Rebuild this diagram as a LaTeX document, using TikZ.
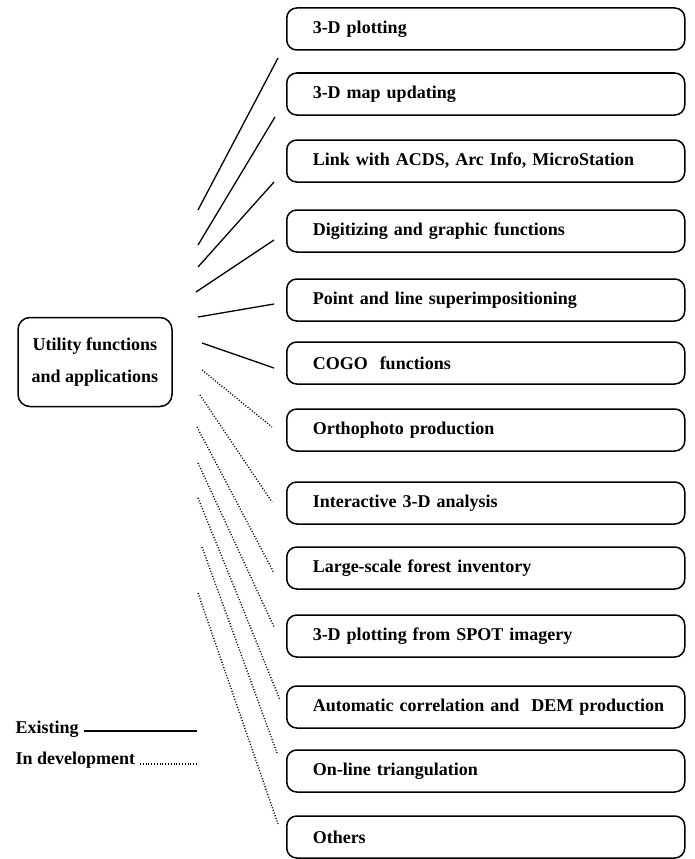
\documentclass[tikz,border=0pt]{standalone}
\usepackage{fontspec}
\setmainfont{Liberation Serif}

\tikzset{
    item/.style={draw, rounded corners=10pt, line width=1.5pt, minimum height=42pt,
        text width=346pt, inner xsep=26pt, align=left, anchor=west,
        font=\fontsize{18}{20}\selectfont\bfseries},
    main/.style={draw, rounded corners=12pt, line width=1.5pt, minimum width=154pt,
        minimum height=89pt, align=center, font=\fontsize{18}{32}\selectfont\bfseries},
    key/.style={anchor=base west, font=\fontsize{18}{20}\selectfont\bfseries},
    ex/.style={line width=1.3pt},
    dev/.style={line width=1.4pt, dash pattern=on 1pt off 1.8pt},
}

\begin{document}
\begin{tikzpicture}[x=1pt, y=-1pt]
    \useasboundingbox (0, 0) rectangle (694, 859);

    \node[main](U) at (95, 362) {Utility functions\\and applications};

    \node[item](P1) at (286, 29) {3-D plotting};
    \node[item](P2) at (286, 94) {3-D map updating};
    \node[item](P3) at (286, 161) {Link with ACDS, Arc Info, MicroStation};
    \node[item](P4) at (286, 231) {Digitizing and graphic functions};
    \node[item](P5) at (286, 300) {Point and line superimpositioning};
    \node[item](P6) at (286, 363) {COGO~ functions};
    \node[item](P7) at (286, 430) {Orthophoto production};
    \node[item](P8) at (286, 503) {Interactive 3-D analysis};
    \node[item](P9) at (286, 568) {Large-scale forest inventory};
    \node[item](P10) at (286, 636) {3-D plotting from SPOT imagery};
    \node[item](P11) at (286, 707) {\mbox{Automatic correlation and~ DEM production}};
    \node[item](P12) at (286, 771) {On-line triangulation};
    \node[item](P13) at (286, 837) {Others};

    % existing
    \coordinate(a1) at (198, 210);
    \coordinate(b1) at (278, 58);
    \coordinate(a2) at (198, 245);
    \coordinate(b2) at (275, 117);
    \coordinate(a3) at (198, 267);
    \coordinate(b3) at (274, 182);
    \coordinate(a4) at (196, 292);
    \coordinate(b4) at (274, 240);
    \coordinate(a5) at (198, 317);
    \coordinate(b5) at (274, 304);
    \coordinate(a6) at (202, 343);
    \coordinate(b6) at (274, 368);

    \draw [ex] (a1)--(b1);
    \draw [ex] (a2)--(b2);
    \draw [ex] (a3)--(b3);
    \draw [ex] (a4)--(b4);
    \draw [ex] (a5)--(b5);
    \draw [ex] (a6)--(b6);

    % in development
    \coordinate(a7) at (202, 370);
    \coordinate(b7) at (272, 427);
    \coordinate(a8) at (200, 395);
    \coordinate(b8) at (272, 502);
    \coordinate(a9) at (197, 427);
    \coordinate(b9) at (274, 573);
    \coordinate(a10) at (198, 463);
    \coordinate(b10) at (274, 627);
    \coordinate(a11) at (198, 498);
    \coordinate(b11) at (280, 700);
    \coordinate(a12) at (202, 547);
    \coordinate(b12) at (277, 753);
    \coordinate(a13) at (198, 593);
    \coordinate(b13) at (278, 824);

    \draw [dev] (a7)--(b7);
    \draw [dev] (a8)--(b8);
    \draw [dev] (a9)--(b9);
    \draw [dev] (a10)--(b10);
    \draw [dev] (a11)--(b11);
    \draw [dev] (a12)--(b12);
    \draw [dev] (a13)--(b13);

    % legend
    \node[key](E) at (12, 733) {Existing};
    \node[key](D) at (12, 764) {In development};
    \coordinate(e1) at (84, 731);
    \coordinate(e2) at (197, 731);
    \coordinate(d1) at (140, 764);
    \coordinate(d2) at (197, 764);
    \draw [ex] (e1)--(e2);
    \draw [dev] (d1)--(d2);
\end{tikzpicture}
\end{document}
